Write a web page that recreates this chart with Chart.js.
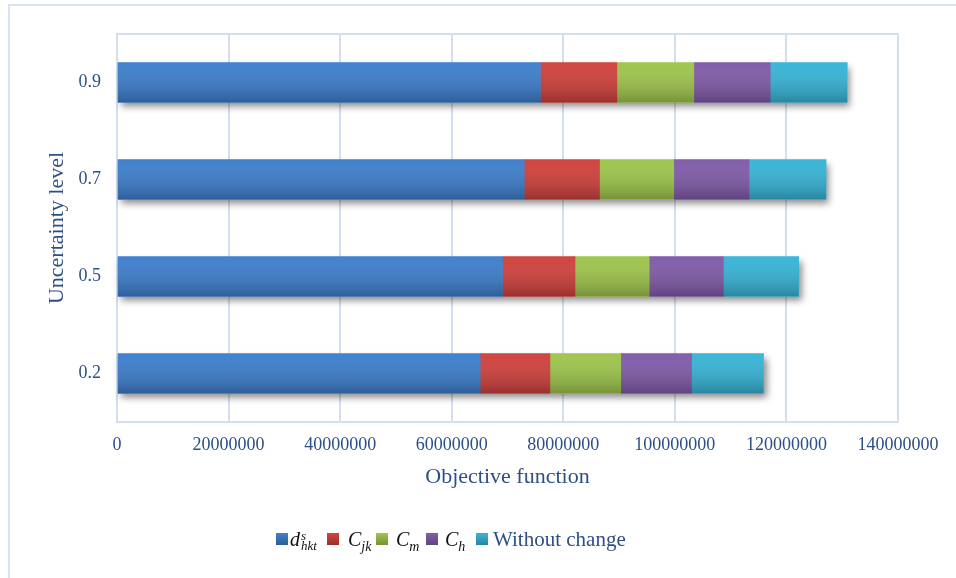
<!DOCTYPE html>
<html>
<head>
<meta charset="utf-8">
<script src="https://cdn.jsdelivr.net/npm/chart.js@4.4.1/dist/chart.umd.min.js"></script>
<style>
  body { margin: 0; background: #fff; }
  #wrap { position: relative; width: 956px; height: 578px; overflow: hidden; background: #fff; }
  #frame { position: absolute; left: 8px; top: 4px; width: 1000px; height: 700px;
           border: 2px solid #d9e4f3; box-sizing: border-box; }
  #box { position: absolute; left: 0; top: 0; width: 956px; height: 578px; }
  .sw { position: absolute; top: 533px; width: 12px; height: 12px; }
  .lab { position: absolute; top: 527px; height: 24px; line-height: 24px; white-space: nowrap;
         font-family: "Liberation Serif", serif; }
  .math { font-size: 20px; color: #111; font-style: italic; }
  .math sub { font-size: 14px; vertical-align: -5px; line-height: 0; }
  .stk { display: inline-block; vertical-align: middle; line-height: 10px; font-size: 13px; margin-left: 1px; }
  .stk span { display: block; }
  .txt { font-size: 21px; color: #2d4f86; }
</style>
</head>
<body>
<div id="wrap">
  <div id="frame"></div>
  <div id="box"><canvas id="chart"></canvas></div>
  <div id="legend"></div>
</div>
<script>
// Costes por nivel de incertidumbre (de arriba a abajo)
const levels = ['0.9', '0.7', '0.5', '0.2'];
const dHkt = [75900000, 73000000, 69100000, 65100000];
const cJk = [13700000, 13500000, 13000000, 12500000];
const cM = [13800000, 13300000, 13300000, 12700000];
const cH = [13700000, 13500000, 13300000, 12700000];
const withoutChange = [13800000, 13800000, 13500000, 12900000];
const xTicks = [0, 20000000, 40000000, 60000000, 80000000, 100000000, 120000000, 140000000];

// Etiquetas de la leyenda (con sub/superíndices)
const legendNames = [
    '<span class="math">d<span class="stk"><span>s</span><span>hkt</span></span></span>',
    '<span class="math">C<sub>jk</sub></span>',
    '<span class="math">C<sub>m</sub></span>',
    '<span class="math">C<sub>h</sub></span>',
    '<span class="txt">Without change</span>'
];

const colors = ['#3b7dcc', '#cf3f3b', '#9dc44a', '#7f59a8', '#35b3d6'];
const textColor = '#2d4f86';
const serif = '"Liberation Serif", "Times New Roman", serif';

// Marco del área de trazado, sombras y degradado de las barras
const barStyle = {
    id: 'barStyle',
    beforeDatasetsDraw(chart) {
        const { ctx, chartArea: a } = chart;
        ctx.save();
        ctx.strokeStyle = '#d3dff0';
        ctx.lineWidth = 2;
        ctx.strokeRect(a.left, a.top, a.right - a.left, a.bottom - a.top);

        const metas = chart.getSortedVisibleDatasetMetas();
        const first = metas[0];
        const last = metas[metas.length - 1];
        first.data.forEach((bar, i) => {
            const end = last.data[i];
            ctx.shadowColor = 'rgba(0, 0, 0, 0.45)';
            ctx.shadowBlur = 7;
            ctx.shadowOffsetX = 3;
            ctx.shadowOffsetY = 4;
            ctx.fillStyle = '#fff';
            ctx.fillRect(bar.base, bar.y - bar.height / 2, end.x - bar.base, bar.height);
        });
        ctx.restore();
    },
    afterDatasetsDraw(chart) {
        const { ctx } = chart;
        ctx.save();
        chart.getSortedVisibleDatasetMetas().forEach(meta => {
            meta.data.forEach(bar => {
                const top = bar.y - bar.height / 2;
                const g = ctx.createLinearGradient(0, top, 0, top + bar.height);
                g.addColorStop(0, 'rgba(255, 255, 255, 0.03)');
                g.addColorStop(1, 'rgba(0, 0, 0, 0.25)');
                ctx.fillStyle = g;
                ctx.fillRect(bar.base, top, bar.x - bar.base, bar.height);
            });
        });
        ctx.restore();
    }
};

const series = [dHkt, cJk, cM, cH, withoutChange];
const labels = ['d_hkt^s', 'C_jk', 'C_m', 'C_h', 'Without change'];

new Chart(document.getElementById('chart'), {
    type: 'bar',
    data: {
        labels: levels,
        datasets: series.map((values, i) => ({
            label: labels[i],
            data: values,
            backgroundColor: colors[i],
            borderWidth: 0,
            barThickness: 40
        }))
    },
    options: {
        indexAxis: 'y',
        responsive: true,
        maintainAspectRatio: false,
        animation: false,
        layout: { padding: { left: 0, top: 34, right: 58, bottom: 76 } },
        scales: {
            x: {
                stacked: true,
                min: 0,
                max: 140000000,
                afterBuildTicks: scale => { scale.ticks = xTicks.map(v => ({ value: v })); },
                afterFit: scale => { scale.height = 80; },
                grid: { color: '#d3dff0', lineWidth: 2, drawTicks: false },
                border: { display: false },
                ticks: {
                    padding: 12,
                    color: textColor,
                    font: { family: serif, size: 18 },
                    callback: v => String(v)
                },
                title: {
                    display: true,
                    text: 'Objective function',
                    color: textColor,
                    font: { family: serif, size: 22 },
                    padding: { top: 0, bottom: 12 }
                }
            },
            y: {
                stacked: true,
                afterFit: scale => { scale.width = 117; },
                grid: { display: false, drawTicks: false },
                border: { display: false },
                ticks: {
                    padding: 16,
                    color: textColor,
                    font: { family: serif, size: 18 }
                },
                title: {
                    display: true,
                    text: 'Uncertainty level',
                    color: textColor,
                    font: { family: serif, size: 22 },
                    padding: { top: 44, bottom: 0 }
                }
            }
        },
        plugins: {
            legend: { display: false },
            tooltip: { enabled: false }
        }
    },
    plugins: [barStyle]
});

// Leyenda en HTML para poder usar sub/superíndices
const legendPos = [[276, 290], [327, 348], [376, 396], [426, 445], [476, 493]];
const legend = document.getElementById('legend');
legendNames.forEach((name, i) => {
    const sw = document.createElement('div');
    sw.className = 'sw';
    sw.style.left = legendPos[i][0] + 'px';
    sw.style.background = `linear-gradient(rgba(255,255,255,0.03), rgba(0,0,0,0.25)), ${colors[i]}`;
    legend.appendChild(sw);

    const lab = document.createElement('div');
    lab.className = 'lab';
    lab.style.left = legendPos[i][1] + 'px';
    lab.innerHTML = name;
    legend.appendChild(lab);
});
</script>
</body>
</html>
